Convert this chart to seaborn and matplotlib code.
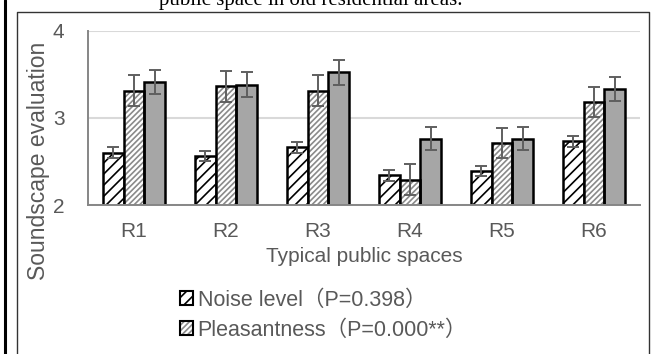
import numpy as np
import pandas as pd
import matplotlib
matplotlib.use("Agg")
import matplotlib.pyplot as plt
import seaborn as sns
from matplotlib.patches import Patch, Rectangle
from matplotlib.lines import Line2D

# ---------------- data ----------------
categories = ["R1", "R2", "R3", "R4", "R5", "R6"]
noise = [2.60, 2.56, 2.66, 2.34, 2.39, 2.73]
noise_err = [0.06, 0.06, 0.065, 0.06, 0.06, 0.06]
pleasant = [3.31, 3.36, 3.31, 2.29, 2.71, 3.18]
pleasant_err = [0.18, 0.175, 0.18, 0.18, 0.175, 0.175]
third = [3.41, 3.38, 3.52, 2.76, 2.76, 3.33]
third_err = [0.135, 0.14, 0.14, 0.135, 0.135, 0.135]
series_labels = ["Noise level（P=0.398）", "Pleasantness（P=0.000**）", "Series 3"]
y_ticks = [2, 3, 4]
title_text = "public space in old residential areas."
x_title = "Typical public spaces"
y_title = "Soundscape evaluation"

# ---------------- style ----------------
sns.set_style("white")
plt.rcParams["font.family"] = ["Liberation Sans", "Noto Sans CJK SC", "DejaVu Sans"]
plt.rcParams["hatch.linewidth"] = 1.2
TXT = "#595959"
AX = "#868686"

W, H = 651, 354
fig = plt.figure(figsize=(W / 100, H / 100), dpi=100)
ax = fig.add_axes([88 / W, 1 - 205 / H, (640 - 88) / W, (205 - 30.5) / H])

df = pd.DataFrame({
    "space": categories * 3,
    "value": noise + pleasant + third,
    "series": [series_labels[0]] * 6 + [series_labels[1]] * 6 + [series_labels[2]] * 6,
})
sns.barplot(data=df, x="space", y="value", hue="series", hue_order=series_labels,
            palette=["white", "white", "#a6a6a6"], saturation=1, width=0.675,
            errorbar=None, edgecolor="black", linewidth=1.8, legend=False, ax=ax)

conts = ax.containers
for p in conts[0]:
    p.set_hatch("///")
    p.set_edgecolor("black")
for p in conts[1]:
    p.set_hatch("//////")
    p.set_edgecolor("#8a8a8a")
    p.set_linewidth(0)
    ax.add_patch(Rectangle((p.get_x(), p.get_y()), p.get_width(), p.get_height(),
                           fill=False, edgecolor="black", linewidth=1.8, zorder=p.get_zorder() + 0.1))

for cont, vals, errs in zip(conts, [noise, pleasant, third], [noise_err, pleasant_err, third_err]):
    xs = [p.get_x() + p.get_width() / 2 for p in cont]
    ax.errorbar(xs, vals, yerr=errs, fmt="none", ecolor="#5f5f5f", elinewidth=1.4,
                capsize=4.2, capthick=1.4, zorder=5)

ax.set_ylim(2, 4)
ax.set_yticks(y_ticks)
ax.set_xlim(-0.5, 5.5)
ax.yaxis.grid(True, color="#d9d9d9", linewidth=1.5)
ax.set_axisbelow(True)
for s in ["top", "right"]:
    ax.spines[s].set_visible(False)
for s in ["left", "bottom"]:
    ax.spines[s].set_color(AX)
    ax.spines[s].set_linewidth(1.4)

ax.set_xticks(range(len(categories)))
ax.set_xticklabels(categories)
ax.set_xticks(np.arange(-0.5, len(categories), 1), minor=True)
ax.tick_params(axis="x", which="major", length=0, labelsize=15, labelcolor=TXT, pad=12.5)
ax.tick_params(axis="x", which="minor", length=5, width=1.4, color=AX, direction="out")
ax.tick_params(axis="y", length=5, width=1.4, color=AX, labelsize=15, labelcolor=TXT, pad=12)

ax.set_xlabel(x_title, fontsize=15, color=TXT, labelpad=4)
ax.set_ylabel(y_title, fontsize=16.5, color=TXT)
ax.yaxis.set_label_coords(-0.09, 0.25)
ax.yaxis.label.set_va("center")

# legend
h1 = Patch(facecolor="white", edgecolor="black", hatch="///", linewidth=1.5)
h2a = Patch(facecolor="white", edgecolor="#8a8a8a", hatch="//////", linewidth=0)
h2b = Patch(facecolor="none", edgecolor="black", linewidth=1.5)
fig.legend([h1, (h2a, h2b)], series_labels[:2], loc="upper left",
           bbox_to_anchor=(180 / W, 1 - 290 / H), frameon=False, borderpad=0,
           borderaxespad=0, handlelength=0.62, handleheight=0.62, handletextpad=0.2,
           labelspacing=0.4, labelcolor=TXT, fontsize=15.5)

# frame and title
fig.add_artist(Line2D([17 / W, 17 / W, 649 / W, 649 / W], [0, 1 - 12 / H, 1 - 12 / H, 0],
                      transform=fig.transFigure, color="#333333", linewidth=1.0))
fig.add_artist(Line2D([5 / W, 5 / W], [0, 1], transform=fig.transFigure,
                      color="black", linewidth=2.2))
fig.text(311 / W, 1 - 4.5 / H, title_text, ha="center", va="baseline",
         family="Liberation Serif", fontsize=15, color="black")

fig.savefig("out.png", dpi=100)
